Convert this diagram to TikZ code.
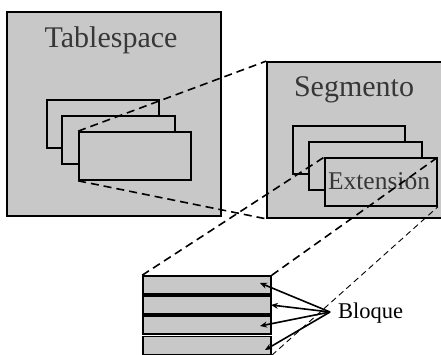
\documentclass[tikz,border=0pt]{standalone}
\usepackage{fontspec}
\setmainfont{Liberation Serif}
\usetikzlibrary{arrows.meta}
\definecolor{boxgray}{RGB}{200,200,200}
\definecolor{titlegray}{RGB}{55,55,55}
\tikzset{
  panel/.style={draw=black, fill=boxgray, line width=1.7pt, inner sep=0pt},
  card/.style={draw=black, fill=boxgray, line width=1.7pt, inner sep=0pt,
               minimum height=48pt},
  strip/.style={draw=black, fill=boxgray, line width=1.6pt, inner sep=0pt,
                minimum width=128pt, minimum height=18pt},
  title/.style={text=titlegray, inner sep=0pt, anchor=base},
  zoomline/.style={line width=1.6pt, dash pattern=on 8pt off 5pt},
  thinzoom/.style={line width=0.9pt, dash pattern=on 6pt off 4pt},
  pointer/.style={line width=1.6pt, -{Stealth[length=7pt,width=6pt]}}
}
\begin{document}
\begin{tikzpicture}[x=1pt,y=-1pt]
\useasboundingbox (0,0) rectangle (441,355);

% Tablespace with its segments
\node[panel, minimum width=214pt, minimum height=204pt] (ts) at (114,114) {};
\node[title, font=\fontsize{30}{31}\selectfont] (tstitle) at (111,48) {Tablespace};
\node[card, minimum width=112pt] (tsa) at (103,124) {};
\node[card, minimum width=113pt] (tsb) at (118.5,140) {};
\node[card, minimum width=112pt] (tsc) at (135,156) {};

% Segment with its extents
\node[panel, minimum width=180pt, minimum height=156pt] (seg) at (357,140) {};
\node[title, font=\fontsize{30}{31}\selectfont] (segtitle) at (354,97) {Segmento};
\node[card, minimum width=112pt] (sga) at (349,150) {};
\node[card, minimum width=113pt] (sgb) at (365.5,166) {};
\node[card, minimum width=112pt] (sgc) at (381,182) {};
\node[title, font=\fontsize{25.5}{26}\selectfont] (ext) at (379,190) {Extension};

% Blocks of an extent
\node[strip] (b1) at (207,285) {};
\node[strip] (b2) at (207,305) {};
\node[strip] (b3) at (207,325) {};
\node[strip] (b4) at (207,345.5) {};
\node[inner sep=0pt, anchor=base west, font=\fontsize{22.5}{23}\selectfont] (bloque) at (338,318) {Bloque};

% Zoom lines
\draw[zoomline] (tsc.north west) -- (seg.north west);
\draw[zoomline] (tsc.south west) -- (seg.south west);
\draw[zoomline] (b1.north west) -- (sgc.north west);
\draw[zoomline] (b1.north east) -- (sgc.north east);
\draw[thinzoom] (b4.south east) -- (sgc.south east);

% Pointers to the blocks
\coordinate (hub) at (330,312);
\coordinate (t1) at (260,283);
\coordinate (t2) at (271,305);
\coordinate (t3) at (260,326);
\coordinate (t4) at (265,350);
\foreach \t in {t1,t2,t3,t4} \draw[pointer] (hub) -- (\t);
\end{tikzpicture}
\end{document}
